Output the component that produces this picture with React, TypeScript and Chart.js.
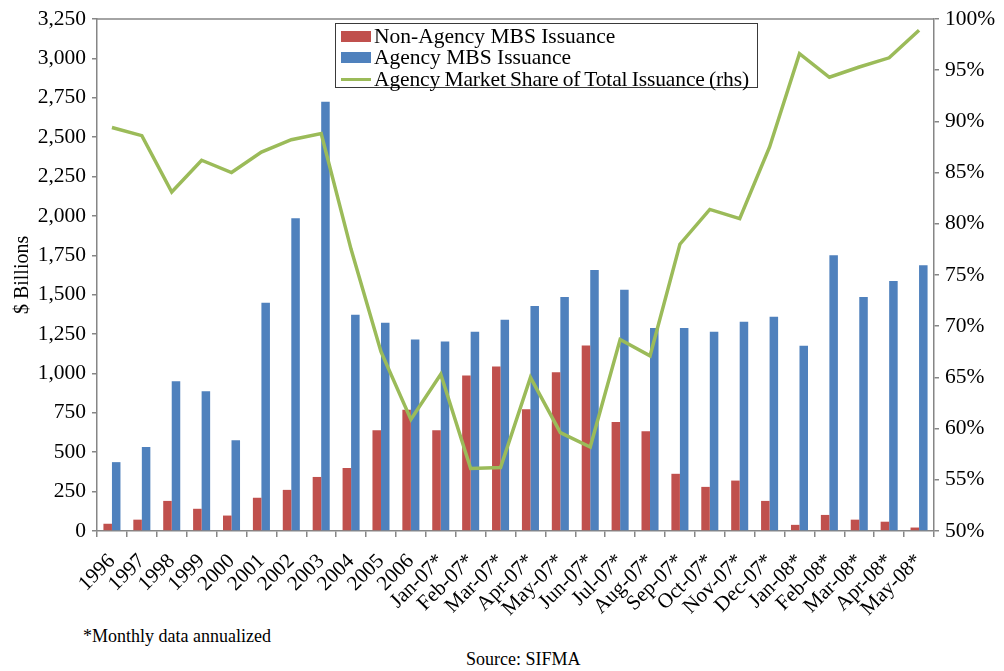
import React, { useEffect, useRef } from "react";
import { Chart, registerables } from "chart.js";

Chart.register(...registerables);

const categories = [
  "1996", "1997", "1998", "1999", "2000", "2001", "2002", "2003", "2004", "2005", "2006",
  "Jan-07*", "Feb-07*", "Mar-07*", "Apr-07*", "May-07*", "Jun-07*", "Jul-07*", "Aug-07*",
  "Sep-07*", "Oct-07*", "Nov-07*", "Dec-07*",
  "Jan-08*", "Feb-08*", "Mar-08*", "Apr-08*", "May-08*",
];

const nonAgencyIssuance = [
  46, 72, 191, 141, 98, 211, 261, 343, 400, 639, 770,
  639, 987, 1044, 772, 1007, 1178, 691, 633, 363, 280, 320, 191,
  39, 102, 72, 59, 22,
];

const agencyIssuance = [
  437, 533, 950, 887, 576, 1448, 1985, 2724, 1372, 1322, 1215,
  1202, 1265, 1341, 1428, 1485, 1657, 1531, 1289, 1289, 1265, 1328, 1359,
  1176, 1750, 1485, 1587, 1687,
];

const agencyShare = [
  89.4, 88.6, 83.1, 86.2, 85.0, 87.0, 88.2, 88.8, 77.5, 67.5, 60.9,
  65.3, 56.1, 56.2, 65.0, 59.6, 58.2, 68.7, 67.1, 78.0, 81.4, 80.5, 87.5,
  96.6, 94.3, 95.3, 96.2, 98.9,
];

const leftAxis = { min: 0, max: 3250, step: 250 };
const rightAxis = { min: 50, max: 100, step: 5 };

const RED = "#C0504D";
const BLUE = "#4F81BD";
const GREEN = "#9BBB59";
const AXIS = "#868686";
const FONT = "'Liberation Serif', 'Times New Roman', serif";

const framePlugin = {
  id: "frameTop",
  afterDraw(chart: any) {
    const { ctx, chartArea } = chart;
    ctx.save();
    ctx.strokeStyle = AXIS;
    ctx.lineWidth = 1.5;
    ctx.beginPath();
    ctx.moveTo(chartArea.left, chartArea.top);
    ctx.lineTo(chartArea.right, chartArea.top);
    ctx.stroke();
    ctx.restore();
  },
};

export default function App() {
  const canvasRef = useRef<HTMLCanvasElement | null>(null);

  useEffect(() => {
    if (!canvasRef.current) return;
    const chart = new Chart(canvasRef.current, {
      type: "bar",
      data: {
        labels: categories,
        datasets: [
          {
            type: "line",
            label: "Agency Market Share of Total Issuance (rhs)",
            data: agencyShare,
            yAxisID: "y1",
            borderColor: GREEN,
            backgroundColor: GREEN,
            borderWidth: 3.5,
            pointRadius: 0,
            tension: 0,
            order: 0,
          } as any,
          {
            label: "Non-Agency MBS Issuance",
            data: nonAgencyIssuance,
            backgroundColor: RED,
            yAxisID: "y",
            order: 1,
            categoryPercentage: 0.57,
            barPercentage: 1.0,
          },
          {
            label: "Agency MBS Issuance",
            data: agencyIssuance,
            backgroundColor: BLUE,
            yAxisID: "y",
            order: 1,
            categoryPercentage: 0.57,
            barPercentage: 1.0,
          },
        ],
      },
      options: {
        animation: false,
        responsive: false,
        maintainAspectRatio: false,
        layout: { padding: { top: 15, left: 0, right: 0, bottom: 0 } },
        plugins: {
          legend: { display: false },
          tooltip: { enabled: false },
        },
        scales: {
          x: {
            offset: true,
            grid: {
              display: true,
              drawOnChartArea: false,
              drawTicks: true,
              tickLength: 6,
              color: AXIS,
              lineWidth: 1.5,
              offset: true,
            },
            border: { display: true, color: AXIS, width: 1.5 },
            ticks: {
              autoSkip: false,
              maxRotation: 45,
              minRotation: 45,
              color: "#000",
              padding: 12,
              font: { family: FONT, size: 21 },
            },
            afterFit(scale: any) {
              scale.height = 94;
            },
          },
          y: {
            position: "left",
            min: leftAxis.min,
            max: leftAxis.max,
            grid: {
              display: true,
              drawOnChartArea: false,
              drawTicks: true,
              tickLength: 5,
              color: AXIS,
              lineWidth: 1.5,
            },
            border: { display: true, color: AXIS, width: 1.5 },
            ticks: {
              stepSize: leftAxis.step,
              color: "#000",
              padding: 6,
              font: { family: FONT, size: 21.5 },
              callback: (v: any) => Number(v).toLocaleString("en-US"),
            },
            title: {
              display: true,
              text: "$ Billions",
              color: "#000",
              font: { family: FONT, size: 20 },
              padding: { top: 11, bottom: 0 },
            },
            afterFit(scale: any) {
              scale.width = 97;
            },
          },
          y1: {
            position: "right",
            min: rightAxis.min,
            max: rightAxis.max,
            grid: {
              display: true,
              drawOnChartArea: false,
              drawTicks: true,
              tickLength: 5,
              color: AXIS,
              lineWidth: 1.5,
            },
            border: { display: true, color: AXIS, width: 1.5 },
            ticks: {
              stepSize: rightAxis.step,
              color: "#000",
              padding: 6,
              font: { family: FONT, size: 21.5 },
              callback: (v: any) => `${v}%`,
            },
            afterFit(scale: any) {
              scale.width = 70;
            },
          },
        },
      },
      plugins: [framePlugin],
    });
    return () => chart.destroy();
  }, []);

  const legendRow: React.CSSProperties = {
    display: "flex",
    alignItems: "center",
    height: 21.5,
  };
  const textStyle: React.CSSProperties = {
    fontFamily: FONT,
    fontSize: 21.5,
    color: "#000",
    whiteSpace: "nowrap",
    marginLeft: 3,
    lineHeight: "21px",
    flexShrink: 0,
  };
  const swatch = (h: number, c: string): React.CSSProperties => ({
    width: 30,
    height: h,
    background: c,
    flexShrink: 0,
  });

  return (
    <div
      style={{
        position: "fixed",
        left: 0,
        top: 0,
        width: 1004,
        height: 671,
        background: "#fff",
        overflow: "hidden",
      }}
    >
      <canvas
        ref={canvasRef}
        width={1004}
        height={625}
        style={{ position: "absolute", left: 0, top: 0, width: 1004, height: 625 }}
      />
      <div
        style={{
          position: "absolute",
          left: 335,
          top: 23,
          width: 423,
          height: 65,
          border: "1.5px solid #3a3a3a",
          background: "#fff",
          paddingLeft: 5,
          paddingTop: 1.5,
          boxSizing: "border-box",
          overflow: "visible",
        }}
      >
        <div style={legendRow}>
          <div style={swatch(11, RED)} />
          <span style={textStyle}>Non-Agency MBS Issuance</span>
        </div>
        <div style={legendRow}>
          <div style={swatch(11, BLUE)} />
          <span style={textStyle}>Agency MBS Issuance</span>
        </div>
        <div style={legendRow}>
          <div style={swatch(3.5, GREEN)} />
          <span style={{ ...textStyle, letterSpacing: "-0.12px", wordSpacing: "-1px" }}>
            Agency Market Share of Total Issuance (rhs)
          </span>
        </div>
      </div>
      <div
        style={{
          position: "absolute",
          left: 83,
          top: 626,
          fontFamily: FONT,
          fontSize: 18,
          color: "#000",
          whiteSpace: "nowrap",
        }}
      >
        *Monthly data annualized
      </div>
      <div
        style={{
          position: "absolute",
          left: 466,
          top: 649,
          fontFamily: FONT,
          fontSize: 18,
          color: "#000",
          whiteSpace: "nowrap",
        }}
      >
        Source: SIFMA
      </div>
    </div>
  );
}
